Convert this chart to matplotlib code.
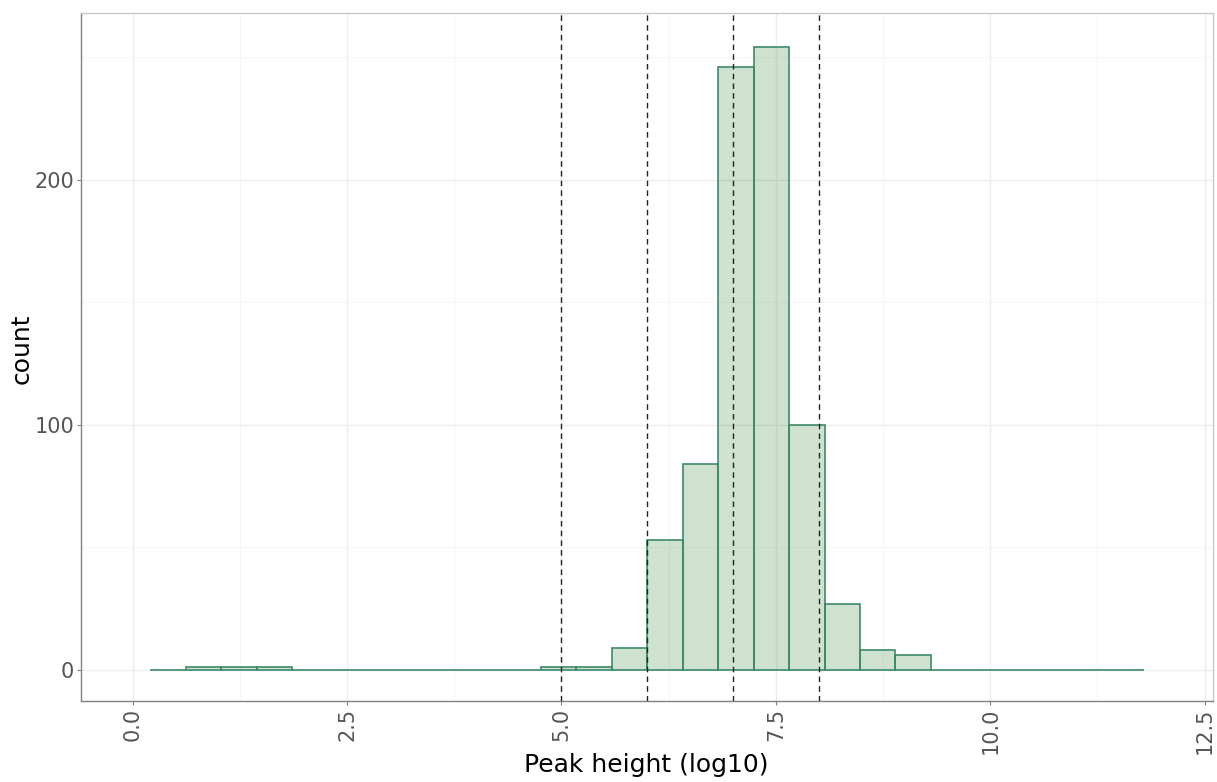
import numpy as np
import matplotlib.pyplot as plt
from matplotlib.ticker import MultipleLocator

# histogram bins (log10 peak height)
bin_start = 0.207
bin_width = 0.4137
counts = [0, 1, 1, 1, 0, 0, 0, 0, 0, 0, 0, 1, 1, 9, 53, 84, 246, 254,
          100, 27, 8, 6, 0, 0, 0, 0, 0, 0]
cutoffs = [5, 6, 7, 8]

edges = bin_start + bin_width * np.arange(len(counts) + 1)

fig = plt.figure(figsize=(12.17, 7.82), dpi=100)
ax = fig.add_axes([0.0668, 0.104, 0.9297, 0.8794])

ax.bar(edges[:-1], counts, width=bin_width, align='edge',
       facecolor=(0.0, 0.39, 0.0, 0.19), edgecolor='#3d8a6a',
       linewidth=1.2, zorder=2)

for c in cutoffs:
    ax.axvline(c, color='#222222', linestyle=(0, (4, 3)), linewidth=1.0, zorder=3)

ax.set_xlim(-0.599, 12.594)
ax.set_ylim(-12.65, 268)

ax.xaxis.set_major_locator(MultipleLocator(2.5))
ax.xaxis.set_minor_locator(MultipleLocator(1.25))
ax.yaxis.set_major_locator(MultipleLocator(100))
ax.yaxis.set_minor_locator(MultipleLocator(50))
ax.xaxis.set_major_formatter(plt.FuncFormatter(lambda v, p: f'{v:.1f}'))

ax.grid(which='major', color='#eeeeee', linewidth=1.0, zorder=0)
ax.grid(which='minor', color='#f6f6f6', linewidth=0.8, zorder=0)
ax.set_axisbelow(True)

for side in ['left', 'bottom']:
    ax.spines[side].set_color('#808080')
    ax.spines[side].set_linewidth(1.0)
for side in ['top', 'right']:
    ax.spines[side].set_color('#c8c8c8')
    ax.spines[side].set_linewidth(1.0)

ax.tick_params(which='major', length=3, color='#808080', labelsize=15,
               labelcolor='#555555', pad=2)
ax.tick_params(which='minor', length=0)
ax.tick_params(axis='x', labelrotation=90)

ax.set_xlabel('Peak height (log10)', fontsize=18, color='black')
ax.set_ylabel('count', fontsize=18, color='black')
ax.xaxis.set_label_coords(0.5 - 0.0, -0.0936)
ax.xaxis.label.set_va('center')
ax.xaxis.label.set_x((646 - 81.3) / 1131.4)
ax.yaxis.set_label_coords(-0.0525, (782 - 349 - 81.3) / 687.7)
ax.yaxis.label.set_va('center')

fig.savefig('out.png', dpi=100)
